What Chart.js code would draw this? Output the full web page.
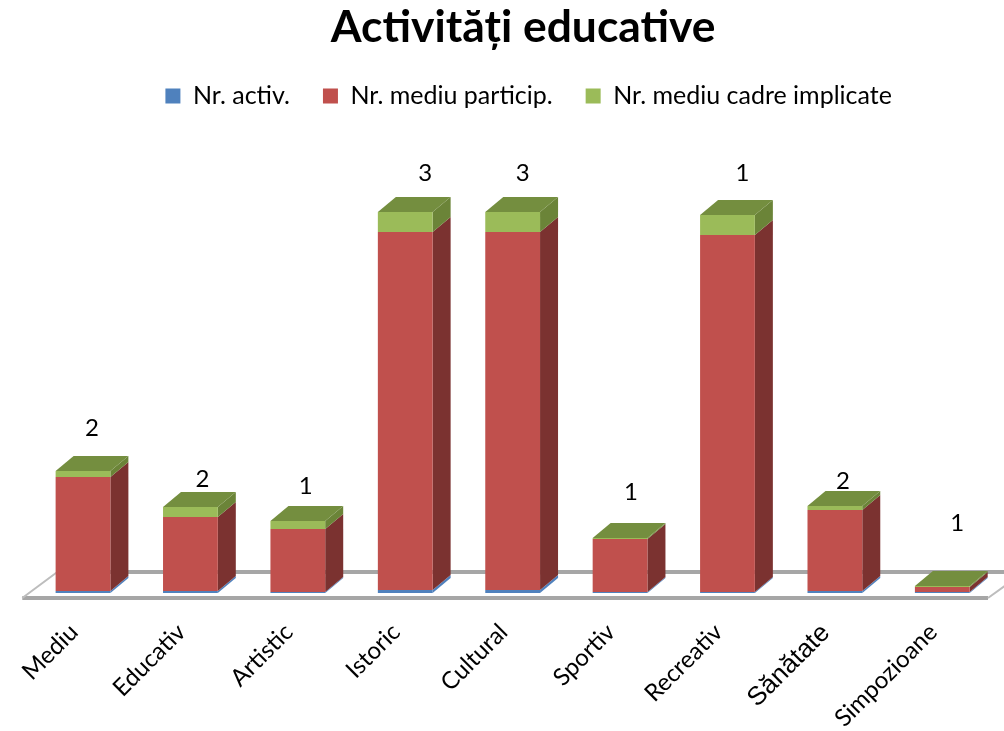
<!DOCTYPE html>
<html>
<head>
<meta charset="utf-8">
<script src="https://cdn.jsdelivr.net/npm/chart.js@4"></script>
<style>
    body { margin: 0; background: #fff; }
    canvas { display: block; }
</style>
</head>
<body>
<canvas id="chart" width="1004" height="731"></canvas>
<script>
    const categories = ['Mediu', 'Educativ', 'Artistic', 'Istoric', 'Cultural', 'Sportiv', 'Recreativ', 'Sănătate', 'Simpozioane'];
    const nrActiv = [2, 2, 1, 3, 3, 1, 1, 2, 1];
    const nrParticip = [114, 74, 63, 358, 358, 53, 357, 81, 5];
    const nrCadre = [6, 10, 8, 20, 20, 1, 20, 4, 1];

    const frontColors = ['#4f81bd', '#c0504d', '#9bbb59'];
    const sideColors = ['#4f81bd', '#7b3230', '#6b8438'];
    const topColor = '#748e3f';
    const fontName = 'Lato';

    // the data labels were moved by hand in the original
    const labelNudge = [[9, -43], [12, -28], [8, -35], [20, -39], [10, -39], [11, -46], [15, -42], [8, -25], [15, -63]];
    const depth = { x: 18, y: 15 };

    function poly(ctx, pts, color) {
        ctx.fillStyle = color;
        ctx.beginPath();
        pts.forEach((p, i) => i ? ctx.lineTo(p[0], p[1]) : ctx.moveTo(p[0], p[1]));
        ctx.closePath();
        ctx.fill();
    }

    const fake3d = {
        id: 'fake3d',
        afterLayout(chart) {
            // title and legend sit right of the plot centre in the original
            chart.titleBlock.left += 10.5;
            chart.titleBlock.right += 10.5;
            chart.legend.left += 16;
            chart.legend.right += 16;
        },
        beforeDatasetsDraw(chart) {
            const ctx = chart.ctx;
            const x = chart.scales.x;
            const base = chart.scales.y.getPixelForValue(0);

            // floor
            ctx.save();
            ctx.strokeStyle = '#a6a6a6';
            ctx.lineWidth = 4;
            ctx.beginPath();
            ctx.moveTo(x.left + 28, base - 21);
            ctx.lineTo(1010, base - 21);
            ctx.moveTo(x.left - 7, base + 5);
            ctx.lineTo(x.right - 8, base + 5);
            ctx.stroke();
            ctx.strokeStyle = '#bdbdbd';
            ctx.lineWidth = 2;
            ctx.beginPath();
            ctx.moveTo(x.left - 7, base + 5);
            ctx.lineTo(x.left + 28, base - 21);
            ctx.moveTo(x.right - 8, base + 5);
            ctx.lineTo(x.right + 10, base - 8);
            ctx.stroke();

            // side and top faces of each column
            categories.forEach((c, i) => {
                chart.data.datasets.forEach((ds, d) => {
                    const bar = chart.getDatasetMeta(d).data[i];
                    const r = bar.x + bar.width / 2;
                    poly(ctx, [[r, bar.base], [r + depth.x, bar.base - depth.y], [r + depth.x, bar.y - depth.y], [r, bar.y]], sideColors[d]);
                });
                const top = chart.getDatasetMeta(2).data[i];
                const l = top.x - top.width / 2;
                const r = top.x + top.width / 2;
                poly(ctx, [[l, top.y], [r, top.y], [r + depth.x, top.y - depth.y], [l + depth.x, top.y - depth.y]], topColor);
            });
            ctx.restore();
        },
        afterDatasetsDraw(chart) {
            const ctx = chart.ctx;
            ctx.save();
            ctx.fillStyle = '#000';
            ctx.font = '24px ' + fontName;
            ctx.textAlign = 'center';
            ctx.textBaseline = 'middle';
            nrActiv.forEach((v, i) => {
                const top = chart.getDatasetMeta(2).data[i];
                ctx.fillText(v, top.x + labelNudge[i][0], top.y + labelNudge[i][1]);
            });
            ctx.restore();
        }
    };

    new Chart(document.getElementById('chart').getContext('2d'), {
        type: 'bar',
        data: {
            labels: categories,
            datasets: [
                { label: 'Nr. activ.', data: nrActiv, backgroundColor: frontColors[0] },
                { label: 'Nr. mediu particip.', data: nrParticip, backgroundColor: frontColors[1] },
                { label: 'Nr. mediu cadre implicate', data: nrCadre, backgroundColor: frontColors[2] }
            ]
        },
        options: {
            responsive: false,
            animation: false,
            layout: { padding: { left: 29.3, right: 8, top: 0, bottom: 0 } },
            datasets: { bar: { categoryPercentage: 1, barPercentage: 0.51 } },
            plugins: {
                title: {
                    display: true,
                    text: 'Activități educative',
                    color: '#000',
                    font: { family: fontName, size: 44.4, weight: 'bold' },
                    padding: { top: 1, bottom: -3.8 }
                },
                legend: {
                    position: 'top',
                    labels: {
                        color: '#000',
                        font: { family: fontName, size: 25 },
                        boxWidth: 15,
                        boxHeight: 15,
                        padding: 33
                    }
                },
                tooltip: { enabled: false }
            },
            scales: {
                x: {
                    stacked: true,
                    grid: { display: false },
                    border: { display: false },
                    afterFit(scale) { scale.height = 138; },
                    ticks: {
                        autoSkip: false,
                        minRotation: 45,
                        maxRotation: 45,
                        padding: 17,
                        labelOffset: -9,
                        color: '#000',
                        font(ctx) {
                            return ctx.index === 7
                                ? { family: 'Liberation Sans', size: 26 }
                                : { family: fontName, size: 24 };
                        }
                    }
                },
                y: {
                    stacked: true,
                    display: false,
                    min: 0,
                    max: 474.5
                }
            }
        },
        plugins: [fake3d]
    });
</script>
</body>
</html>
